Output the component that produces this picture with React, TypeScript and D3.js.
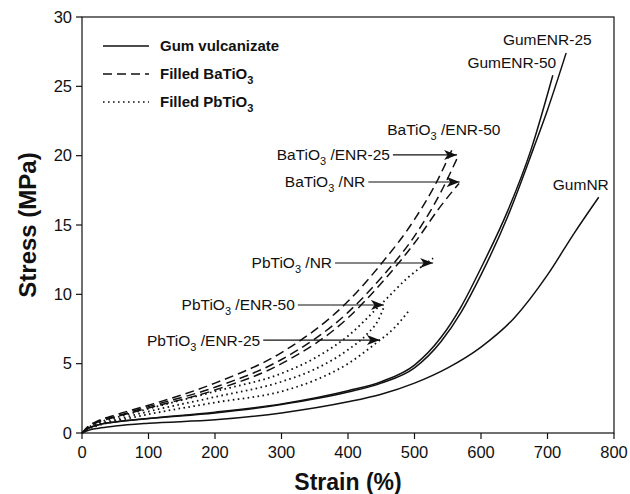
import React from "react";
import * as d3 from "d3";

// ---- data ----
const xTicks = [0, 100, 200, 300, 400, 500, 600, 700, 800];
const yTicks = [0, 5, 10, 15, 20, 25, 30];

const gumENR25Strain = [0, 10, 25, 50, 100, 200, 300, 400, 450, 500, 540, 570, 600, 640, 678, 700, 728];
const gumENR25Stress = [0, 0.35, 0.6, 0.8, 1.05, 1.45, 2.05, 2.95, 3.6, 4.7, 6.6, 8.7, 11.4, 15.6, 20.4, 23.3, 27.4];
const gumENR50Strain = [0, 10, 25, 50, 100, 200, 300, 400, 450, 500, 540, 570, 600, 640, 675, 708];
const gumENR50Stress = [0, 0.35, 0.6, 0.8, 1.05, 1.5, 2.1, 3.05, 3.7, 4.9, 6.9, 9.1, 11.9, 16.0, 20.4, 25.8];
const gumNRStrain = [0, 10, 25, 50, 100, 200, 300, 400, 450, 500, 550, 600, 650, 700, 740, 777];
const gumNRStress = [0, 0.2, 0.35, 0.5, 0.7, 0.95, 1.45, 2.25, 2.8, 3.6, 4.7, 6.2, 8.3, 11.4, 14.4, 17.0];

const baENR50Strain = [0, 10, 25, 50, 100, 200, 300, 400, 450, 500, 530, 558];
const baENR50Stress = [0, 0.5, 0.9, 1.3, 2.0, 3.6, 5.8, 9.5, 12.2, 15.4, 17.8, 20.6];
const baENR25Strain = [0, 10, 25, 50, 100, 200, 300, 400, 450, 500, 540, 565];
const baENR25Stress = [0, 0.45, 0.85, 1.2, 1.9, 3.3, 5.3, 8.7, 11.2, 14.2, 17.4, 19.9];
const baNRStrain = [0, 10, 25, 50, 100, 200, 300, 400, 450, 500, 540, 567];
const baNRStress = [0, 0.45, 0.8, 1.15, 1.8, 3.1, 5.0, 8.3, 10.8, 13.7, 16.4, 18.0];

const pbNRStrain = [0, 10, 25, 50, 100, 200, 300, 350, 400, 450, 490, 528];
const pbNRStress = [0, 0.4, 0.75, 1.1, 1.75, 3.0, 4.3, 5.4, 7.0, 9.3, 11.2, 12.6];
const pbENR50Strain = [0, 10, 25, 50, 100, 200, 300, 350, 400, 430, 445, 455];
const pbENR50Stress = [0, 0.35, 0.65, 0.95, 1.55, 2.6, 3.7, 4.6, 6.0, 7.2, 8.1, 9.2];
const pbENR25Strain = [0, 10, 25, 50, 100, 200, 300, 350, 400, 440, 470, 493];
const pbENR25Stress = [0, 0.3, 0.55, 0.85, 1.35, 2.2, 3.0, 3.8, 5.0, 6.4, 7.6, 8.9];

const series = [
  { name: "GumENR-25", kind: "solid", x: gumENR25Strain, y: gumENR25Stress },
  { name: "GumENR-50", kind: "solid", x: gumENR50Strain, y: gumENR50Stress },
  { name: "GumNR", kind: "solid", x: gumNRStrain, y: gumNRStress },
  { name: "BaTiO3/ENR-50", kind: "dash", x: baENR50Strain, y: baENR50Stress },
  { name: "BaTiO3/ENR-25", kind: "dash", x: baENR25Strain, y: baENR25Stress },
  { name: "BaTiO3/NR", kind: "dash", x: baNRStrain, y: baNRStress },
  { name: "PbTiO3/NR", kind: "dot", x: pbNRStrain, y: pbNRStress },
  { name: "PbTiO3/ENR-50", kind: "dot", x: pbENR50Strain, y: pbENR50Stress },
  { name: "PbTiO3/ENR-25", kind: "dot", x: pbENR25Strain, y: pbENR25Stress },
];

const legendItems = [
  { kind: "solid", label: "Gum vulcanizate", sub: "" },
  { kind: "dash", label: "Filled BaTiO", sub: "3" },
  { kind: "dot", label: "Filled PbTiO", sub: "3" },
];

// annotations: label text (pre, sub, post), label anchor point (data units), arrow end (data units)
const arrowLabels = [
  { pre: "BaTiO", sub: "3", post: " /ENR-25", x: 463, y: 20.05, tipX: 564 },
  { pre: "BaTiO", sub: "3", post: " /NR", x: 426, y: 18.1, tipX: 568 },
  { pre: "PbTiO", sub: "3", post: " /NR", x: 376, y: 12.26, tipX: 528 },
  { pre: "PbTiO", sub: "3", post: " /ENR-50", x: 320, y: 9.23, tipX: 454 },
  { pre: "PbTiO", sub: "3", post: " /ENR-25", x: 268, y: 6.7, tipX: 448 },
];
const plainLabels = [
  { pre: "BaTiO", sub: "3", post: " /ENR-50", x: 459, y: 21.85, anchor: "start" },
  { pre: "GumENR-25", sub: "", post: "", x: 633, y: 28.34, anchor: "start" },
  { pre: "GumENR-50", sub: "", post: "", x: 713, y: 26.7, anchor: "end" },
  { pre: "GumNR", sub: "", post: "", x: 708, y: 17.9, anchor: "start" },
];

const W = 630;
const H = 494;
const FONT = "'Liberation Sans', Arial, Helvetica, sans-serif";

const dashFor = (k: string) => (k === "dash" ? "9,5" : k === "dot" ? "1.6,3.4" : undefined);

export default function App() {
  const x = d3.scaleLinear().domain([0, 800]).range([82, 614]);
  const y = d3.scaleLinear().domain([0, 30]).range([433, 17]);
  const line = d3
    .line<[number, number]>()
    .x((d) => x(d[0]))
    .y((d) => y(d[1]))
    .curve(d3.curveMonotoneX);

  const labelText = (l: { pre: string; sub: string; post: string }) => (
    <>
      {l.pre}
      {l.sub ? (
        <tspan fontSize={11} dy={5}>
          {l.sub}
        </tspan>
      ) : null}
      {l.post ? <tspan dy={l.sub ? -5 : 0}>{l.post}</tspan> : null}
    </>
  );

  return (
    <svg
      width={W}
      height={H}
      style={{ position: "absolute", left: 0, top: 0, background: "#fff" }}
      fontFamily={FONT}
    >
      <defs>
        <marker id="arr" viewBox="0 0 13 10" refX="13" refY="5" markerWidth="13" markerHeight="10" markerUnits="userSpaceOnUse" orient="auto">
          <path d="M0,0 L13,5 L0,10 L3.5,5 Z" fill="#111" />
        </marker>
      </defs>

      {/* frame */}
      <rect x={x(0)} y={y(30)} width={x(800) - x(0)} height={y(0) - y(30)} fill="none" stroke="#111" strokeWidth={1.2} />

      {/* x ticks */}
      {xTicks.map((t) => (
        <g key={"x" + t}>
          <line x1={x(t)} x2={x(t)} y1={y(0)} y2={y(0) + 6} stroke="#111" strokeWidth={1.2} />
          <text x={x(t)} y={y(0) + 25} textAnchor="middle" fontSize={16.5} fill="#111">
            {t}
          </text>
        </g>
      ))}
      {/* y ticks */}
      {yTicks.map((t) => (
        <g key={"y" + t}>
          <line x1={x(0) - 6} x2={x(0)} y1={y(t)} y2={y(t)} stroke="#111" strokeWidth={1.2} />
          <text x={x(0) - 10} y={y(t)} dy="0.35em" textAnchor="end" fontSize={16.5} fill="#111">
            {t}
          </text>
        </g>
      ))}

      <text x={(x(0) + x(800)) / 2} y={490} textAnchor="middle" fontSize={23} fontWeight="bold" fill="#111">
        Strain (%)
      </text>
      <text
        transform={`translate(${36},${(y(0) + y(30)) / 2}) rotate(-90)`}
        textAnchor="middle"
        fontSize={24}
        fontWeight="bold"
        fill="#111"
      >
        Stress (MPa)
      </text>

      {/* curves */}
      {series.map((s) => (
        <path
          key={s.name}
          d={line(s.x.map((v, i) => [v, s.y[i]] as [number, number])) || ""}
          fill="none"
          stroke="#111"
          strokeWidth={s.kind === "dot" ? 1.8 : 1.5}
          strokeDasharray={dashFor(s.kind)}
        />
      ))}

      {/* legend */}
      {legendItems.map((l, i) => {
        const ly = 46 + i * 28;
        return (
          <g key={l.label}>
            <line x1={103} x2={149} y1={ly} y2={ly} stroke="#111" strokeWidth={1.4} strokeDasharray={dashFor(l.kind)} />
            <text x={160} y={ly} dy="0.35em" fontSize={15} fontWeight="bold" fill="#111">
              {l.label}
              {l.sub ? (
                <tspan fontSize={11} dy={5}>
                  {l.sub}
                </tspan>
              ) : null}
            </text>
          </g>
        );
      })}

      {/* arrow annotations */}
      {arrowLabels.map((a) => (
        <g key={a.pre + a.post}>
          <text x={x(a.x)} y={y(a.y)} dy="0.35em" textAnchor="end" fontSize={15.5} fill="#111">
            {labelText(a)}
          </text>
          <line x1={x(a.x) + 3} x2={x(a.tipX)} y1={y(a.y)} y2={y(a.y)} stroke="#111" strokeWidth={1.2} markerEnd="url(#arr)" />
        </g>
      ))}
      {plainLabels.map((a) => (
        <text key={a.pre + a.post} x={x(a.x)} y={y(a.y)} dy="0.35em" textAnchor={a.anchor as any} fontSize={15.5} fill="#111">
          {labelText(a)}
        </text>
      ))}
    </svg>
  );
}
